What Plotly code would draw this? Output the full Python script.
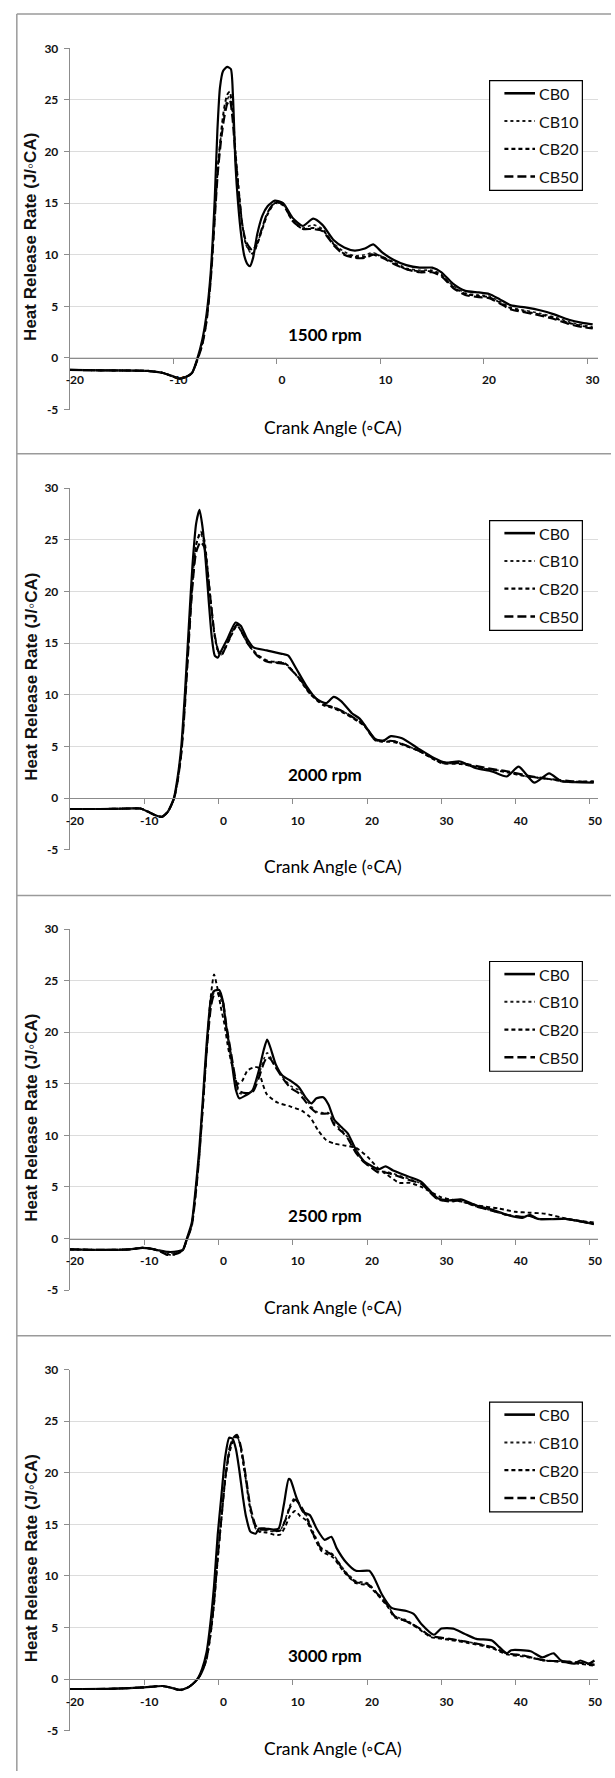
import plotly.graph_objects as go

W, H = 615, 1778

# ---------------- data ----------------
series_names = ["CB0", "CB10", "CB20", "CB50"]
speed_labels = ["1500 rpm", "2000 rpm", "2500 rpm", "3000 rpm"]
x_ticks_1500 = [-20, -10, 0, 10, 20, 30]
x_ticks_other = [-20, -10, 0, 10, 20, 30, 40, 50]
y_ticks = [-5, 0, 5, 10, 15, 20, 25, 30]

# 1500 rpm
r1500_x_cb0 = [-20, -17, -14, -12.5, -11, -10, -9.4, -8.8, -8.2, -7.7, -7.2, -6.8, -6.4, -6.0, -5.75, -5.5, -5.2, -4.8, -4.45, -4.25,
               -4.0, -3.75, -3.45, -3.15, -2.85, -2.6, -2.3, -1.9, -1.4, -0.9, -0.2, 0.6, 1.5, 2.5, 3.5, 4.4, 5.5, 6.5, 7.5, 8.5,
               9.3, 10.2, 11.3, 12.5, 13.8, 15.0, 15.9, 17.0, 18.2, 19.5, 20.5, 21.5, 22.6, 24.0, 25.5, 26.7, 28.2, 29.5, 30.5]
r1500_y_cb0 = [-1.15, -1.2, -1.22, -1.25, -1.45, -1.8, -2.0, -1.85, -1.45, -0.1, 1.8, 4.2, 8.2, 15.5, 22.0, 26.2, 27.8, 28.2, 28.0, 25.5,
               18.7, 15.0, 11.9, 9.9, 9.1, 8.9, 9.7, 12.0, 13.8, 14.7, 15.25, 15.0, 13.6, 12.8, 13.5, 12.9, 11.4, 10.7, 10.4, 10.6,
               11.0, 10.2, 9.5, 9.0, 8.75, 8.75, 8.3, 7.2, 6.5, 6.35, 6.2, 5.7, 5.1, 4.9, 4.6, 4.25, 3.7, 3.4, 3.25]
r1500_x_cb = [-20, -17, -14, -12.5, -11, -10, -9.4, -8.8, -8.2, -7.7, -7.2, -6.8, -6.4, -6.0, -5.7, -5.4, -5.1, -4.8, -4.55, -4.3,
              -4.0, -3.7, -3.35, -3.0, -2.7, -2.35, -1.9, -1.4, -0.9, -0.2, 0.6, 1.5, 2.5, 3.5, 4.4, 5.5, 6.5, 7.5, 8.5, 9.3,
              10.2, 11.3, 12.5, 13.8, 15.0, 15.9, 17.0, 18.2, 19.5, 20.5, 21.5, 22.6, 24.0, 25.5, 26.7, 28.2, 29.5, 30.5]
r1500_y_cb10 = [-1.15, -1.2, -1.22, -1.25, -1.45, -1.8, -2.0, -1.85, -1.45, -0.2, 1.5, 3.8, 7.8, 14.0, 18.5, 21.5, 23.8, 25.0, 25.5, 23.8,
                19.8, 16.3, 12.8, 11.0, 10.4, 10.0, 11.0, 12.6, 14.0, 15.0, 14.9, 13.4, 12.6, 12.9, 12.5, 11.1, 10.3, 9.9, 10.0, 10.2,
                9.8, 9.3, 8.7, 8.5, 8.5, 8.1, 7.0, 6.3, 6.1, 6.0, 5.5, 4.9, 4.6, 4.3, 4.0, 3.5, 3.2, 3.0]
r1500_y_cb20 = [-1.15, -1.2, -1.22, -1.25, -1.45, -1.8, -2.0, -1.85, -1.45, -0.2, 1.4, 3.6, 7.6, 13.8, 18.5, 21.8, 24.2, 25.5, 25.8, 24.2,
                20.0, 16.5, 13.0, 11.1, 10.5, 10.1, 11.0, 12.5, 13.9, 15.0, 14.8, 13.3, 12.5, 12.6, 12.4, 11.0, 10.1, 9.8, 9.8, 10.1,
                9.8, 9.2, 8.6, 8.4, 8.4, 8.0, 6.9, 6.2, 6.0, 5.9, 5.4, 4.8, 4.5, 4.2, 3.9, 3.4, 3.1, 2.9]
r1500_y_cb50 = [-1.15, -1.2, -1.22, -1.25, -1.45, -1.8, -2.0, -1.85, -1.45, -0.25, 1.3, 3.5, 7.4, 13.5, 18.0, 21.0, 23.2, 24.6, 25.0, 23.3,
                19.5, 16.2, 13.0, 11.3, 10.8, 10.4, 11.2, 12.7, 14.1, 15.1, 14.9, 13.3, 12.5, 12.5, 12.3, 10.9, 10.0, 9.7, 9.7, 10.0,
                9.7, 9.1, 8.6, 8.3, 8.3, 7.9, 6.8, 6.1, 5.9, 5.8, 5.3, 4.7, 4.4, 4.1, 3.8, 3.3, 3.0, 2.85]

# 2000 rpm
r2000_x_cb0 = [-20, -16, -12, -10.5, -9.5, -8.5, -7.6, -6.8, -6.0, -5.5, -5.0, -4.5, -4.0, -3.5, -3.0, -2.55, -2.1, -1.7, -1.3, -0.9,
               -0.5, -0.1, 0.4, 1.2, 2.3, 3.0, 3.8, 4.7, 6.5, 8.7, 9.4, 10.5, 11.8, 13.2, 14.5, 15.5, 16.5, 18.0, 19.0, 21.0,
               22.0, 23.2, 24.7, 26.9, 29.0, 30.5, 32.5, 34.7, 36.8, 38.8, 40.4, 42.5, 44.5, 46.1, 48.0, 50.5]
r2000_y_cb0 = [-1.05, -1.05, -1.0, -1.0, -1.3, -1.65, -1.8, -1.3, 0.0, 2.0, 5.0, 10.3, 16.5, 22.5, 26.6, 27.9, 26.0, 22.8, 19.0, 15.6,
               13.8, 13.6, 14.3, 15.4, 17.0, 16.7, 15.5, 14.6, 14.3, 13.95, 13.8, 12.5, 10.9, 9.6, 9.2, 9.8, 9.4, 8.2, 7.7, 5.8,
               5.5, 6.0, 5.8, 4.8, 3.9, 3.45, 3.55, 2.9, 2.6, 2.1, 3.05, 1.5, 2.4, 1.65, 1.55, 1.5]
r2000_x_cb = [-20, -16, -12, -10.5, -9.5, -8.5, -7.6, -6.8, -6.0, -5.5, -5.0, -4.5, -4.0, -3.5, -3.0, -2.4, -1.9, -1.5, -1.0, -0.5,
              0.0, 0.4, 0.9, 1.9, 2.5, 3.9, 5.2, 6.6, 8.8, 9.4, 11.0, 12.3, 14.1, 15.5, 17.0, 19.6, 21.1, 23.7, 26.9, 30.0,
              32.6, 36.3, 38.8, 41.5, 44.0, 46.7, 48.5, 50.5]
r2000_y_cb10 = [-1.05, -1.05, -1.0, -1.0, -1.3, -1.65, -1.8, -1.3, -0.1, 1.7, 4.5, 9.5, 15.5, 21.0, 24.6, 25.6, 24.5, 22.0, 18.5, 15.5,
                14.0, 13.8, 14.6, 16.2, 16.8, 15.0, 13.8, 13.2, 13.1, 12.8, 11.5, 10.2, 9.1, 8.8, 8.3, 7.1, 5.6, 5.5, 4.6, 3.4,
                3.35, 2.8, 2.6, 2.1, 1.9, 1.6, 1.6, 1.6]
r2000_y_cb20 = [-1.05, -1.05, -1.0, -1.0, -1.3, -1.65, -1.8, -1.3, -0.1, 1.7, 4.4, 9.3, 15.3, 20.8, 24.5, 25.8, 25.0, 22.5, 18.8, 15.7,
                14.2, 13.9, 14.5, 16.0, 16.7, 15.1, 13.9, 13.3, 13.1, 12.8, 11.4, 10.1, 9.0, 8.7, 8.2, 7.0, 5.6, 5.4, 4.6, 3.4,
                3.3, 2.8, 2.5, 2.1, 1.9, 1.6, 1.6, 1.6]
r2000_y_cb50 = [-1.05, -1.05, -1.0, -1.0, -1.3, -1.65, -1.8, -1.3, -0.1, 1.6, 4.3, 9.0, 15.0, 20.5, 23.8, 24.8, 24.3, 22.2, 18.8, 15.8,
                14.2, 13.8, 14.5, 16.1, 16.8, 15.0, 13.8, 13.2, 13.0, 12.7, 11.5, 10.2, 9.1, 8.8, 8.3, 7.1, 5.7, 5.5, 4.6, 3.5,
                3.4, 2.9, 2.6, 2.2, 1.9, 1.7, 1.6, 1.6]

# 2500 rpm
r2500_x_cb = [-20, -16, -12, -10.2, -9, -8.0, -6.8, -5.5, -4.8, -4.3, -3.6, -3.1, -2.6, -2.1, -1.6, -1.0, -0.6, 0.1, 0.6, 1.0,
              1.7, 2.35, 2.8, 3.7, 4.6, 5.4, 6.1, 6.55, 7.0, 7.7, 8.6, 9.7, 10.8, 11.7, 12.5, 13.2, 14.1, 14.8, 15.6, 16.7,
              17.4, 18.5, 19.6, 20.7, 21.5, 22.5, 23.5, 26.0, 27.3, 29.5, 31.1, 32.6, 34.7, 36.8, 38.8, 40.9, 41.9, 43.0, 46.7, 50.5]
r2500_y_cb0 = [-1.05, -1.1, -1.05, -0.9, -1.0, -1.15, -1.3, -1.25, -1.1, -0.1, 1.5, 4.6, 8.5, 13.5, 18.8, 23.3, 24.0, 24.1, 23.0, 20.8,
               17.6, 14.4, 13.6, 13.9, 14.4, 16.2, 18.3, 19.3, 18.5, 16.9, 15.8, 15.3, 14.7, 13.7, 13.1, 13.6, 13.7, 13.0, 11.5, 10.7,
               10.2, 8.6, 7.5, 7.0, 6.7, 7.0, 6.6, 5.9, 5.5, 3.9, 3.7, 3.8, 3.2, 2.8, 2.3, 2.0, 2.3, 1.9, 1.9, 1.4]
r2500_y_cb10 = [-1.05, -1.1, -1.05, -0.9, -1.0, -1.15, -1.4, -1.35, -1.15, -0.2, 1.3, 4.2, 8.0, 13.0, 18.3, 22.8, 23.8, 23.6, 22.5, 20.6,
                17.8, 15.0, 14.1, 14.0, 14.3, 15.8, 17.4, 18.0, 17.6, 16.6, 15.7, 14.8, 14.4, 13.6, 12.8, 12.3, 12.2, 12.2, 11.2, 10.4,
                9.8, 8.5, 7.4, 6.8, 6.5, 6.5, 6.3, 5.7, 5.3, 3.8, 3.6, 3.6, 3.1, 2.7, 2.3, 2.1, 2.2, 1.9, 1.9, 1.4]
r2500_y_cb50 = [-1.05, -1.1, -1.05, -0.9, -1.0, -1.2, -1.6, -1.45, -1.15, -0.2, 1.2, 4.0, 7.8, 12.8, 18.0, 22.5, 23.6, 23.8, 23.0, 21.0,
                18.0, 15.3, 14.3, 14.1, 14.2, 15.5, 17.0, 17.6, 17.4, 16.6, 15.6, 14.6, 14.1, 13.3, 12.6, 12.2, 12.1, 12.1, 11.0, 10.3,
                9.7, 8.3, 7.4, 6.8, 6.4, 6.4, 6.2, 5.6, 5.3, 3.8, 3.6, 3.7, 3.1, 2.7, 2.3, 2.1, 2.2, 1.9, 1.9, 1.4]
r2500_x_cb20 = [-20, -16, -12, -10.2, -9, -8.0, -6.8, -6.2, -5.5, -4.8, -4.3, -3.6, -3.1, -2.6, -2.1, -1.6, -1.1, -0.6, -0.2, 0.3,
                0.8, 1.3, 1.9, 2.55, 3.2, 3.9, 4.8, 5.3, 5.7, 6.5, 7.9, 9.7, 11.2, 12.3, 13.4, 14.5, 15.6, 17.2, 18.5, 20.1,
                21.5, 22.7, 24.3, 25.8, 27.3, 30.0, 32.6, 35.0, 37.8, 39.9, 42.0, 44.0, 47.0, 50.5]
r2500_y_cb20 = [-1.05, -1.1, -1.05, -0.9, -1.0, -1.2, -1.5, -1.65, -1.35, -1.15, -0.2, 1.3, 4.2, 8.0, 12.8, 18.0, 23.0, 25.6, 24.5, 22.5,
                20.8, 18.5, 16.6, 15.0, 15.3, 16.3, 16.6, 16.6, 15.6, 14.0, 13.2, 12.8, 12.4, 11.8, 10.5, 9.55, 9.2, 9.0, 8.8, 7.9,
                6.8, 6.2, 5.4, 5.4, 5.0, 4.0, 3.6, 3.2, 2.9, 2.6, 2.5, 2.4, 1.9, 1.55]

# 3000 rpm
r3000_x_cb0 = [-20, -15, -10, -7.5, -6.3, -5.2, -4.2, -3.5, -2.8, -2.2, -1.6, -1.1, -0.6, -0.1, 0.4, 0.9, 1.45, 1.9, 2.35, 2.8,
               3.3, 3.7, 4.3, 5.0, 5.45, 6.3, 7.4, 8.1, 8.8, 9.45, 9.7, 10.5, 11.4, 12.3, 13.2, 14.3, 15.2, 15.9, 17.2, 18.5,
               20.3, 20.9, 22.0, 23.3, 25.3, 26.3, 27.3, 29.0, 30.0, 31.6, 33.1, 34.7, 36.8, 37.8, 38.8, 39.4, 42.0, 43.6, 45.1, 46.1,
               47.9, 48.7, 49.8, 50.6]
r3000_y_cb0 = [-0.96, -0.95, -0.8, -0.67, -0.85, -1.05, -0.85, -0.5, 0.05, 1.0, 2.6, 5.3, 9.0, 14.0, 17.8, 21.5, 23.4, 23.3, 22.3, 20.3,
               17.6, 15.8, 14.3, 14.1, 14.6, 14.6, 14.5, 14.6, 16.9, 19.4, 19.3, 17.6, 16.2, 15.9, 14.6, 13.5, 13.8, 12.7, 11.3, 10.5,
               10.5, 9.9, 8.2, 6.9, 6.6, 6.3, 5.35, 4.3, 4.9, 4.9, 4.4, 3.9, 3.75, 3.1, 2.5, 2.8, 2.7, 2.1, 2.5, 1.8,
               1.5, 1.8, 1.5, 1.8]
r3000_x_cb = [-20, -15, -10, -7.5, -6.3, -5.2, -4.2, -3.5, -2.8, -2.2, -1.6, -1.1, -0.6, -0.1, 0.4, 0.9, 1.5, 2.0, 2.5, 3.0,
              3.7, 4.3, 5.0, 5.5, 6.5, 7.5, 8.3, 9.0, 9.6, 10.3, 11.0, 11.8, 12.8, 13.9, 15.4, 17.0, 18.5, 20.1, 21.1, 22.7,
              23.7, 25.3, 26.9, 28.5, 31.1, 33.6, 36.8, 38.8, 40.9, 44.0, 47.1, 50.6]
r3000_y_cb10 = [-0.96, -0.95, -0.8, -0.67, -0.85, -1.05, -0.85, -0.5, 0.0, 0.7, 2.0, 4.3, 7.5, 12.0, 15.8, 19.5, 22.3, 23.3, 23.6, 22.3,
                19.1, 16.3, 14.6, 14.3, 14.4, 14.3, 14.4, 15.5, 16.8, 17.6, 16.8, 15.9, 14.2, 12.7, 12.1, 10.5, 9.5, 9.3, 8.55, 7.3,
                6.15, 5.7, 5.0, 4.2, 3.9, 3.6, 3.1, 2.5, 2.3, 1.8, 1.7, 1.35]
r3000_y_cb20 = [-0.96, -0.95, -0.8, -0.67, -0.85, -1.1, -0.85, -0.5, 0.0, 0.7, 1.9, 4.1, 7.2, 11.6, 15.5, 19.2, 22.0, 23.1, 23.5, 22.5,
                19.3, 16.5, 14.7, 14.3, 14.2, 14.0, 14.0, 14.8, 15.8, 16.3, 15.8, 15.4, 13.9, 12.4, 11.8, 10.3, 9.3, 9.1, 8.4, 7.1,
                6.0, 5.6, 4.9, 4.1, 3.8, 3.5, 3.0, 2.4, 2.2, 1.8, 1.6, 1.3]
r3000_y_cb50 = [-0.96, -0.95, -0.8, -0.67, -0.85, -1.05, -0.85, -0.5, 0.0, 0.7, 2.0, 4.2, 7.4, 11.8, 15.6, 19.4, 22.4, 23.4, 23.7, 22.6,
                19.6, 16.7, 14.9, 14.5, 14.5, 14.4, 14.4, 15.4, 16.6, 17.4, 16.9, 15.8, 14.0, 12.6, 12.0, 10.4, 9.4, 9.2, 8.5, 7.2,
                6.1, 5.6, 5.0, 4.2, 3.9, 3.6, 3.1, 2.5, 2.3, 1.8, 1.7, 1.4]

panels_data = [
    [(r1500_x_cb0, r1500_y_cb0), (r1500_x_cb, r1500_y_cb10), (r1500_x_cb, r1500_y_cb20), (r1500_x_cb, r1500_y_cb50)],
    [(r2000_x_cb0, r2000_y_cb0), (r2000_x_cb, r2000_y_cb10), (r2000_x_cb, r2000_y_cb20), (r2000_x_cb, r2000_y_cb50)],
    [(r2500_x_cb, r2500_y_cb0), (r2500_x_cb, r2500_y_cb10), (r2500_x_cb20, r2500_y_cb20), (r2500_x_cb, r2500_y_cb50)],
    [(r3000_x_cb0, r3000_y_cb0), (r3000_x_cb, r3000_y_cb10), (r3000_x_cb, r3000_y_cb20), (r3000_x_cb, r3000_y_cb50)],
]
for pdata in panels_data:
    for xs, ys in pdata:
        assert len(xs) == len(ys), (len(xs), len(ys))

# ---------------- styling / layout ----------------
CAL = "Lato, Carlito, Calibri, sans-serif"
ARIAL = "Liberation Sans, Arial, sans-serif"
TXT = "#111111"
AXC = "#8c8c8c"

styles = [
    dict(color="#000000", width=2.2, dash="solid"),
    dict(color="#1a1a1a", width=1.6, dash="dot"),
    dict(color="#000000", width=1.9, dash="4px,3px"),
    dict(color="#000000", width=2.1, dash="9px,4px"),
]

# pixel geometry of each panel: (box top, y of 30 line, y of -5 line, x max)
panels_geom = [
    (6.0, 40.7, 405.0, 31.03),
    (449.5, 484.3, 849.0, 51.1),
    (895.0, 929.0, 1293.0, 51.1),
    (1339.0, 1373.3, 1737.3, 51.1),
]
X_LEFT_PX, X_RIGHT_PX = 66.7, 602.0


def py(px):
    return 1 - px / H


def pxx(px):
    return px / W


fig = go.Figure()
shapes = []
annotations = []

for i, (pdata, geom, label) in enumerate(zip(panels_data, panels_geom, speed_labels)):
    top, y30, ym5, xmax = geom
    n = i + 1
    xa = "x" if n == 1 else f"x{n}"
    ya = "y" if n == 1 else f"y{n}"
    for (xs, ys), name, st in zip(pdata, series_names, styles):
        fig.add_trace(go.Scatter(
            x=xs, y=ys, name=name, mode="lines", showlegend=False,
            line=dict(color=st["color"], width=st["width"], dash=st["dash"], shape="spline", smoothing=0.6),
            xaxis=xa, yaxis=ya, hoverinfo="skip",
        ))
    y0px = y30 + 30 * (ym5 - y30) / 35.0
    ticks = x_ticks_1500 if n == 1 else x_ticks_other
    fig.layout[f"xaxis{'' if n == 1 else n}"] = dict(
        domain=[pxx(X_LEFT_PX), pxx(X_RIGHT_PX)], range=[-20, xmax],
        anchor="free", position=py(y0px),
        tickmode="array", tickvals=ticks, ticktext=[f"<b>{t}</b>" for t in ticks],
        showgrid=False, zeroline=False, showline=True, linecolor=AXC, linewidth=1.2,
        ticks="outside", ticklen=5, tickcolor=AXC, tickwidth=1,
        tickfont=dict(family=CAL, size=12, color=TXT),
        ticklabelshift=5, ticklabelstandoff=6,
    )
    fig.layout[f"yaxis{'' if n == 1 else n}"] = dict(
        domain=[py(ym5), py(y30)], range=[-5, 30],
        anchor=xa, tickmode="array", tickvals=y_ticks, ticktext=[f"<b>{t}</b>" for t in y_ticks],
        showgrid=True, gridcolor="#dcdcdc", gridwidth=1.2, zeroline=False,
        showline=True, linecolor=AXC, linewidth=1.2,
        ticks="outside", ticklen=5, tickcolor=AXC,
        tickfont=dict(family=CAL, size=12, color=TXT),
        ticklabelstandoff=3,
    )
    # panel frame line (top)
    shapes.append(dict(type="line", xref="paper", yref="paper", x0=pxx(13), x1=1.0,
                       y0=py(top), y1=py(top), line=dict(color="#9a9a9a", width=1.5)))
    # axis titles and speed label
    annotations.append(dict(text="<b>Heat Release Rate (J/\u25e6CA)</b>", xref="paper", yref="paper",
                            x=pxx(27.5), y=py(y30 + 190), textangle=-90, showarrow=False,
                            font=dict(family=ARIAL, size=17, color=TXT), xanchor="center", yanchor="middle"))
    annotations.append(dict(text="Crank Angle (\u25e6CA)", xref="paper", yref="paper",
                            x=pxx(333), y=py(y30 + 382), showarrow=False,
                            font=dict(family=CAL, size=17.5, color="#000000"), xanchor="center", yanchor="middle"))
    annotations.append(dict(text=f"<b>{label}</b>", xref="paper", yref="paper",
                            x=pxx(325), y=py(y30 + 288.5), showarrow=False,
                            font=dict(family=CAL, size=17, color="#000000"), xanchor="center", yanchor="middle"))
    # legend box
    lx0, lx1 = 492, 586
    ly0, ly1 = y30 + 32.6, y30 + 143.3
    shapes.append(dict(type="rect", xref="paper", yref="paper", x0=pxx(lx0), x1=pxx(lx1),
                       y0=py(ly1), y1=py(ly0), line=dict(color="#000000", width=1.2), fillcolor="white"))
    for k, (name, st) in enumerate(zip(series_names, styles)):
        iy = y30 + 45.3 + 28 * k
        shapes.append(dict(type="line", xref="paper", yref="paper", x0=pxx(507), x1=pxx(538),
                           y0=py(iy), y1=py(iy),
                           line=dict(color=st["color"], width=st["width"] + 0.4, dash=st["dash"])))
        annotations.append(dict(text=name, xref="paper", yref="paper", x=pxx(540), y=py(iy),
                                showarrow=False, xanchor="left", yanchor="middle",
                                font=dict(family=CAL, size=16, color=TXT)))

# left frame line
shapes.append(dict(type="line", xref="paper", yref="paper", x0=pxx(13), x1=pxx(13),
                   y0=0, y1=py(6), line=dict(color="#9a9a9a", width=1.5)))

fig.update_layout(
    width=W, height=H, margin=dict(l=0, r=0, t=0, b=0),
    paper_bgcolor="white", plot_bgcolor="rgba(0,0,0,0)",
    showlegend=False, shapes=shapes, annotations=annotations,
)

fig.write_html("out.html")
